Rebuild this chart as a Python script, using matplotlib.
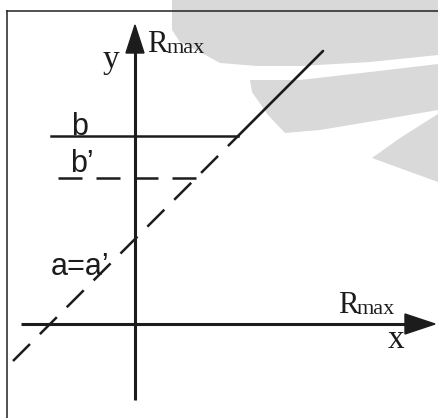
import matplotlib
matplotlib.use('Agg')
import matplotlib.pyplot as plt
from matplotlib.patches import Polygon

# diagram values (origin at the axis crossing, 1 unit = 1 px)
intercept_a = 85
level_b = 188
level_b2 = 146
slope = 1.0
line_x_start = -122
line_x_end = 188

# axis extents
y_axis = (-76, 299)
x_axis = (-114, 300)

ink = '#1c1c1c'
serif = 'Liberation Serif'
sans = 'Liberation Sans'


def px(x, y):
    # pixel coords (y down) -> data coords
    return (x - 135, 324 - y)


# faint grey watermark left by the scan
watermark = [
    [(172, 0), (438, 0), (438, 55), (370, 62), (300, 66), (257, 66), (220, 63), (200, 52), (180, 42), (172, 30)],
    [(250, 80), (300, 80), (370, 72), (438, 64), (438, 110), (380, 120), (320, 130), (285, 133), (268, 115), (252, 92)],
    [(372, 158), (400, 138), (438, 114), (438, 182), (405, 170)],
]

fig = plt.figure(figsize=(4.38, 4.18), dpi=100)
ax = fig.add_axes([0, 0, 1, 1])
ax.set_xlim(-135, 303)
ax.set_ylim(-94, 324)
ax.axis('off')

for poly in watermark:
    ax.add_patch(Polygon([px(*p) for p in poly], closed=True, facecolor='#d9d9d9',
                         edgecolor='none', zorder=0))

# frame (runs off the right and bottom edges)
ax.plot([-128, -128], [-100, 313], color='#222222', lw=1.1, zorder=1)
ax.plot([-128, 310], [313, 313], color='#222222', lw=1.1, zorder=1)

# axes with arrow heads
ax.plot([0, 0], [y_axis[0], y_axis[1] - 20], color=ink, lw=2.2, zorder=2, solid_capstyle='butt')
ax.fill([-9, 9, 0], [y_axis[1] - 28, y_axis[1] - 28, y_axis[1]], color=ink, zorder=2)
ax.plot([x_axis[0], x_axis[1] - 20], [0, 0], color=ink, lw=2.2, zorder=2, solid_capstyle='butt')
ax.fill([x_axis[1] - 30, x_axis[1] - 30, x_axis[1]], [10, -10, 0], color=ink, zorder=2)

# line a + slope*x : dashed below b, solid above
x_meet = (level_b - intercept_a) / slope
ax.plot([line_x_start, x_meet], [intercept_a + slope * line_x_start, level_b],
        color=ink, lw=1.8, ls=(0, (9.6, 5.6)), zorder=3)
ax.plot([x_meet, line_x_end], [level_b, intercept_a + slope * line_x_end],
        color=ink, lw=1.9, zorder=3, solid_capstyle='round')

# level b (solid) and b' (dashed)
ax.plot([-84, x_meet], [level_b, level_b], color=ink, lw=1.8, zorder=3)
x_meet2 = (level_b2 - intercept_a) / slope
ax.plot([-77, x_meet2], [level_b2, level_b2], color=ink, lw=1.8, ls=(0, (9.6, 5.6)), zorder=3)

# labels
ax.text(-32, 256, 'y', fontsize=24, family=serif, color=ink, ha='left', va='baseline')
ax.text(12, 272, 'R', fontsize=22, family=serif, color=ink, ha='left', va='baseline')
ax.text(32, 271, 'max', fontsize=16, family=serif, color=ink, ha='left', va='baseline')
ax.text(203, 11, 'R', fontsize=22, family=serif, color=ink, ha='left', va='baseline')
ax.text(222, 10, 'max', fontsize=16, family=serif, color=ink, ha='left', va='baseline')
ax.text(253, -24, 'x', fontsize=24, family=serif, color=ink, ha='left', va='baseline')
ax.text(-64, 189, 'b', fontsize=22, family=sans, color=ink, ha='left', va='baseline')
ax.text(-65, 152, 'b\u2019', fontsize=22, family=sans, color=ink, ha='left', va='baseline')
ax.text(-84, 49, 'a=a\u2019', fontsize=22, family=sans, color=ink, ha='left', va='baseline')

fig.savefig('out.png', dpi=100)
